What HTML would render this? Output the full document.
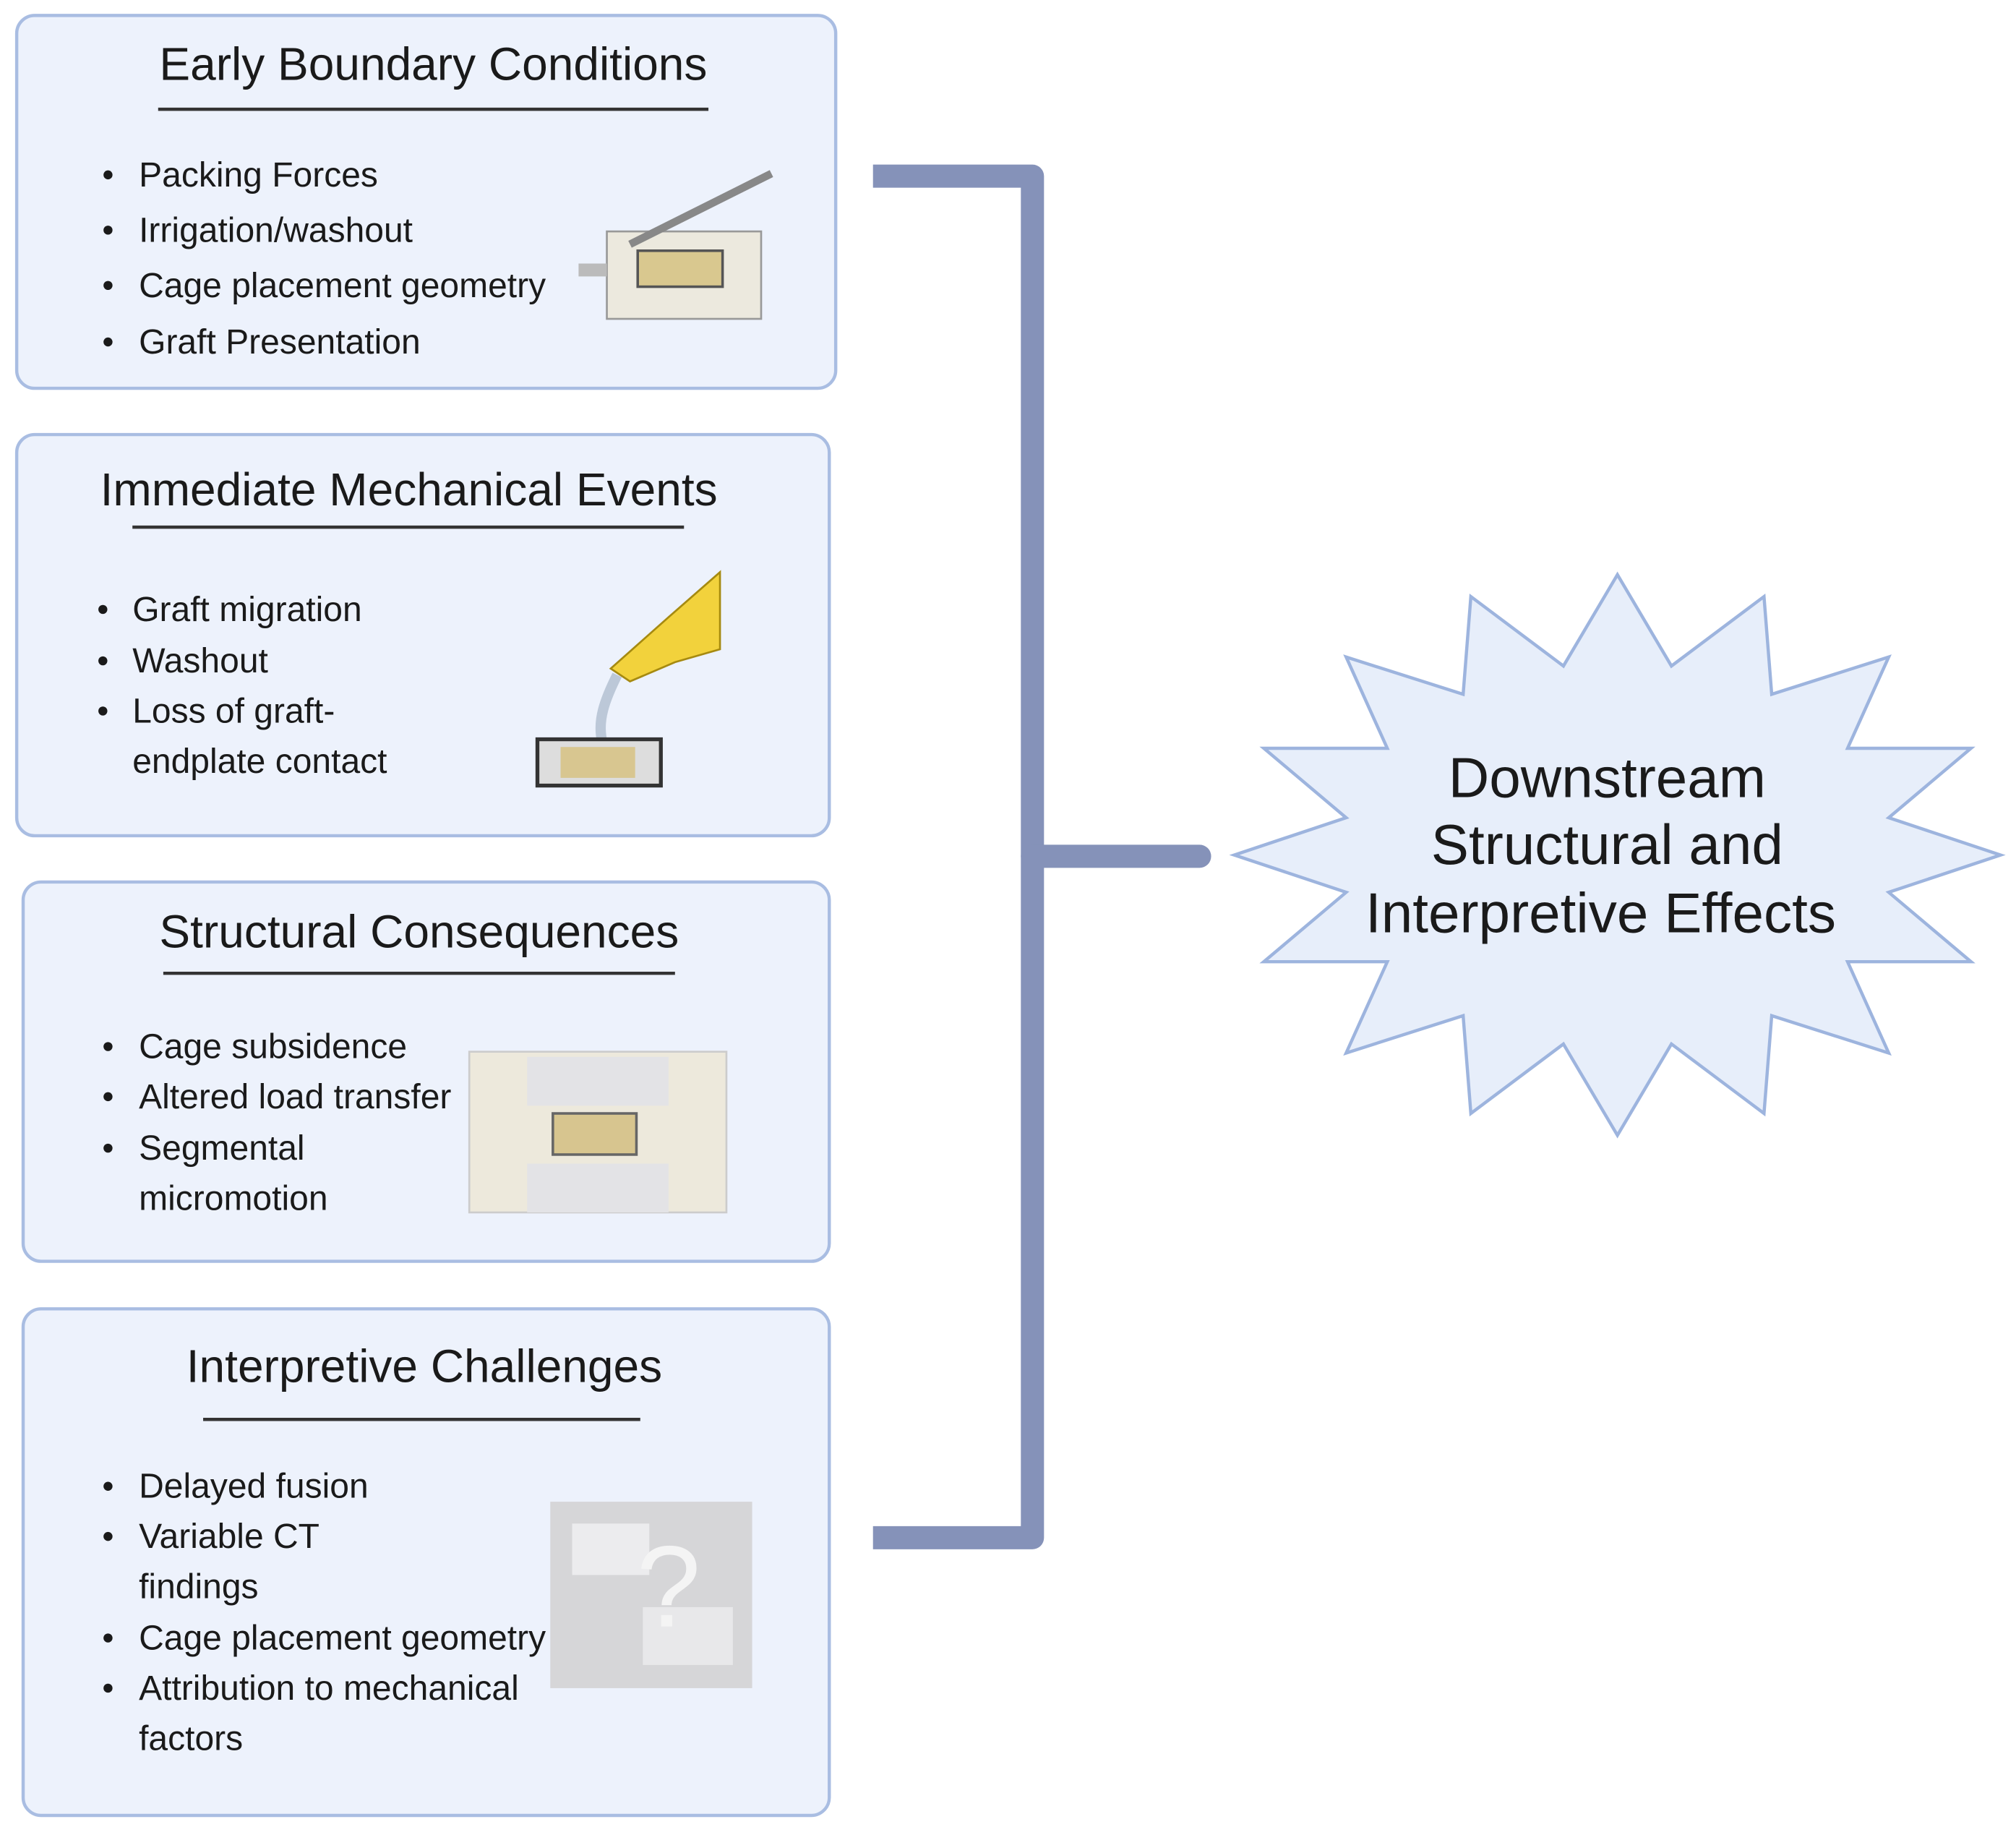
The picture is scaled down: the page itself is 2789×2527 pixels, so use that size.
<!DOCTYPE html>
<html><head><meta charset="utf-8"><style>
html,body{margin:0;padding:0;background:#fff;}
svg{display:block;}
text{font-family:"Liberation Sans",sans-serif;fill:#1a1a1a;}
.t{font-size:36px;text-anchor:middle;}
.b{font-size:27px;}
.s{font-size:44px;text-anchor:middle;}
</style></head><body>
<svg width="2789" height="2527" viewBox="0 0 1568 1421" preserveAspectRatio="none" xmlns="http://www.w3.org/2000/svg">
<rect width="1568" height="1421" fill="#fff"/>
<g fill="#edf2fc" stroke="#a9bde2" stroke-width="2.5">
<rect x="13" y="12" width="637" height="290" rx="14"/>
<rect x="13" y="338" width="632" height="312" rx="14"/>
<rect x="18" y="686" width="627" height="295" rx="14"/>
<rect x="18" y="1018" width="627" height="394" rx="14"/>
</g>
<g stroke="#333" stroke-width="2.5">
<line x1="123" y1="85" x2="551" y2="85"/>
<line x1="103" y1="410" x2="532" y2="410"/>
<line x1="127" y1="757" x2="525" y2="757"/>
<line x1="158" y1="1104" x2="498" y2="1104"/>
</g>
<text class="t" x="337" y="62">Early Boundary Conditions</text>
<text class="t" x="318" y="393">Immediate Mechanical Events</text>
<text class="t" x="326" y="737">Structural Consequences</text>
<text class="t" x="330" y="1075">Interpretive Challenges</text>
<g fill="#1a1a1a">
<circle cx="84" cy="136" r="3.5"/><circle cx="84" cy="179" r="3.5"/><circle cx="84" cy="222" r="3.5"/><circle cx="84" cy="266" r="3.5"/>
<circle cx="80" cy="474" r="3.5"/><circle cx="80" cy="514" r="3.5"/><circle cx="80" cy="553" r="3.5"/>
<circle cx="84" cy="814" r="3.5"/><circle cx="84" cy="853" r="3.5"/><circle cx="84" cy="893" r="3.5"/>
<circle cx="84" cy="1156" r="3.5"/><circle cx="84" cy="1195" r="3.5"/><circle cx="84" cy="1274" r="3.5"/><circle cx="84" cy="1313" r="3.5"/>
</g>
<text class="b" x="108" y="145">Packing Forces</text>
<text class="b" x="108" y="188">Irrigation/washout</text>
<text class="b" x="108" y="231">Cage placement geometry</text>
<text class="b" x="108" y="275">Graft Presentation</text>
<text class="b" x="103" y="483">Graft migration</text>
<text class="b" x="103" y="523">Washout</text>
<text class="b" x="103" y="562">Loss of graft-</text>
<text class="b" x="103" y="601">endplate contact</text>
<text class="b" x="108" y="823">Cage subsidence</text>
<text class="b" x="108" y="862">Altered load transfer</text>
<text class="b" x="108" y="902">Segmental</text>
<text class="b" x="108" y="941">micromotion</text>
<text class="b" x="108" y="1165">Delayed fusion</text>
<text class="b" x="108" y="1204">Variable CT</text>
<text class="b" x="108" y="1243">findings</text>
<text class="b" x="108" y="1283">Cage placement geometry</text>
<text class="b" x="108" y="1322">Attribution to mechanical</text>
<text class="b" x="108" y="1361">factors</text>
<!-- illustrations -->
<g>
<rect x="472" y="180" width="120" height="68" fill="#ece9de" stroke="#999" stroke-width="1.5"/>
<rect x="496" y="195" width="66" height="28" fill="#d9c88f" stroke="#555" stroke-width="2"/>
<line x1="490" y1="190" x2="600" y2="135" stroke="#888" stroke-width="6"/>
<line x1="450" y1="210" x2="472" y2="210" stroke="#bbb" stroke-width="10"/>
<polygon points="475,520 520,480 560,445 560,505 525,515 490,530" fill="#f2d23c" stroke="#a68a10" stroke-width="1.5"/>
<path d="M480,525 C470,545 465,560 468,575" stroke="#bcc8d8" stroke-width="8" fill="none"/>
<rect x="418" y="575" width="96" height="36" fill="#ddd" stroke="#333" stroke-width="3"/>
<rect x="436" y="581" width="58" height="24" fill="#d8c690"/>
<rect x="365" y="818" width="200" height="125" fill="#ede9dc" stroke="#ccc" stroke-width="1.5"/>
<rect x="410" y="822" width="110" height="38" fill="#e3e3e6"/>
<rect x="410" y="905" width="110" height="38" fill="#e3e3e6"/>
<rect x="430" y="866" width="65" height="32" fill="#d7c58f" stroke="#666" stroke-width="2"/>
<rect x="428" y="1168" width="157" height="145" fill="#d6d6d8"/>
<rect x="445" y="1185" width="60" height="40" fill="#ececee"/>
<rect x="500" y="1250" width="70" height="45" fill="#e8e8ea"/>
<text x="495" y="1265" style="font-size:90px;fill:#f4f4f4;">?</text>
</g>
<!-- bracket -->
<g stroke="#8592b9" stroke-width="18" fill="none" stroke-linejoin="round">
<polyline points="679,137 803,137 803,1196 679,1196"/>
<line x1="803" y1="666" x2="933" y2="666" stroke-linecap="round"/>
</g>
<polygon fill="#e7eefa" stroke="#9db4de" stroke-width="2.5" points="1556,665 1469,694 1533,748 1437,748 1469,819 1378,790 1372,866 1300,812 1258,883 1216,812 1144,866 1138,790 1047,819 1079,748 983,748 1047,694 960,665 1047,636 983,582 1079,582 1047,511 1138,540 1144,464 1216,518 1258,447 1300,518 1372,464 1378,540 1469,511 1437,582 1533,582 1469,636"/>
<text class="s" x="1250" y="620">Downstream</text>
<text class="s" x="1250" y="672">Structural and</text>
<text class="s" x="1245" y="725">Interpretive Effects</text>
</svg>
</body></html>
